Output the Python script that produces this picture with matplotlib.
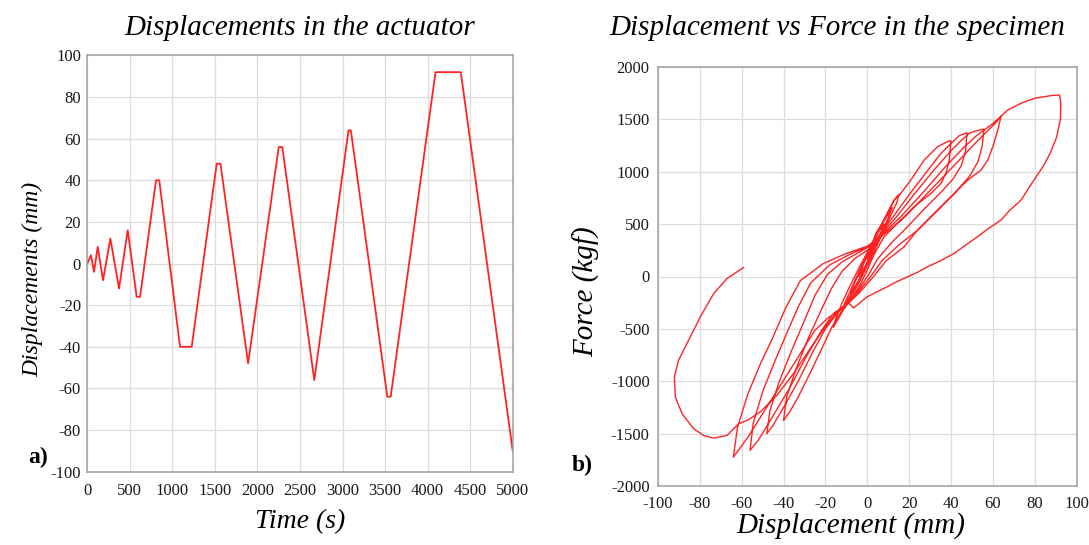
import matplotlib
matplotlib.use("Agg")
import matplotlib.pyplot as plt
import numpy as np

plt.rcParams['font.family'] = ['Liberation Serif', 'DejaVu Serif']
plt.rcParams['axes.unicode_minus'] = False

# ---------------- Panel a) : actuator displacement vs time ----------------
time_s = [0, 43, 79, 122, 185, 271, 373, 475, 580, 620, 808, 846, 1090, 1227,
          1521, 1565, 1890, 2250, 2292, 2668, 3070, 3098, 3526, 3566, 4093, 4390, 5000]
actuator_mm = [0, 4, -4, 8, -8, 12, -12, 16, -16, -16, 40, 40, -40, -40,
               48, 48, -48, 56, 56, -56, 64, 64, -64, -64, 92, 92, -90]

# ---------------- Panel b) : hysteresis (displacement, force) ----------------
small_x = [0, 4, 2, -1, -4, -2, 1, 5, 8, 6, 2, -3, -6, -8, -6, -2, 3, 8, 12, 10, 5, 0, -5, -9,
           -12, -10, -5, 0, 5, 10, 13, 15.2, 14, 10, 5, 0, -5, -10, -14, -16.2, -15, -12, -8, -4, 0, 2]
small_y = [170, 340, 230, 100, 0, 110, 240, 420, 500, 400, 200, 0, -100, -160, -60, 120, 330, 530,
           660, 560, 330, 120, -80, -210, -320, -220, 0, 220, 420, 620, 730, 785, 700, 530, 310, 100,
           -100, -270, -410, -485, -400, -250, -80, 80, 230, 300]

up40_x = [4.1, 8, 12.8, 16, 20.8, 27.2, 33.6, 38.4, 40]
up40_y = [410, 538, 729, 793, 920, 1112, 1239, 1288, 1296]
dn40_x = [39.2, 37.6, 35.2, 30.4, 22.4, 14.4, 8, 3, 0, -4, -8, -12, -17, -22, -28, -33, -37, -40]
dn40_y = [1111, 984, 888, 793, 665, 506, 379, 200, 60, -100, -230, -322, -486, -700, -950, -1150,
          -1290, -1374]

up48_x = [-38.5, -34, -28, -22, -17, -12, -6, 0, 3, 6, 12, 20, 28, 35, 40, 44, 47.7]
up48_y = [-1150, -880, -580, -320, -110, 50, 170, 250, 310, 400, 560, 780, 990, 1170, 1270, 1345, 1373]
dn48_x = [47, 45, 41, 35, 27, 19, 12, 5, 1, -4, -9, -14, -20, -26, -33, -40, -45, -48]
dn48_y = [1200, 1060, 930, 800, 640, 470, 330, 170, 30, -120, -250, -340, -500, -720, -1000, -1250,
          -1420, -1501]

up56_x = [-46.5, -42, -36, -30, -25, -19, -12, -4, 2, 6, 14, 23, 32, 40, 45, 49, 52, 55.7]
up56_y = [-1280, -1000, -700, -420, -180, 20, 140, 230, 300, 390, 570, 800, 1020, 1200, 1300, 1370,
          1390, 1408]
dn56_x = [55, 53, 49, 42, 33, 24, 15, 7, 2, -4, -10, -16, -22, -29, -37, -45, -52, -56]
dn56_y = [1250, 1100, 960, 800, 620, 440, 300, 150, 10, -140, -270, -350, -520, -760, -1060, -1330,
          -1560, -1660]

up64_x = [-54.5, -50, -44, -38, -33, -27, -18, -8, 1, 6, 16, 27, 37, 46, 52, 56, 60, 64]
up64_y = [-1400, -1100, -800, -520, -290, -60, 110, 215, 290, 380, 570, 810, 1040, 1230, 1340, 1400,
          1460, 1532]
dn64_x = [62.4, 60, 57.6, 54.4, 48, 40, 32, 24, 17.6, 9, 3, -4, -11, -19, -25, -33, -41, -49, -57, -64]
dn64_y = [1399, 1239, 1112, 1016, 920, 761, 602, 443, 283, 150, 0, -160, -290, -400, -513, -768,
          -1023, -1278, -1533, -1725]

up92_x = [-62, -57, -51, -45, -39, -32, -21, -10, 0, 6, 18, 30, 42, 52, 58, 62, 64, 67.2, 73.5, 79.9,
          87.9, 91.9]
up92_y = [-1438, -1119, -832, -577, -300, -40, 124, 220, 290, 370, 570, 820, 1070, 1280, 1400, 1480,
          1532, 1590, 1654, 1701, 1727, 1733]
final_x = [92.5, 92.3, 90.5, 87.5, 84, 80.7, 77, 73.5, 68, 63.9, 58, 52.7, 47, 41.5, 35, 28.7, 24,
           19.1, 14, 9.5, 4.7, -0.1, -6.5, -9, -14, -20, -27, -35, -43, -51, -57, -61.4, -67, -73.4,
           -78, -83, -88.5, -91.7, -92.2, -90.2, -85.4, -79.8, -73.4, -67, -59.1]
final_y = [1650, 1500, 1330, 1180, 1050, 952, 840, 729, 630, 538, 460, 379, 300, 220, 150, 92, 40,
           -4, -50, -99, -145, -195, -300, -250, -330, -480, -680, -920, -1130, -1290, -1370, -1405,
           -1517, -1543, -1520, -1453, -1310, -1151, -960, -800, -609, -386, -163, -19, 86]

segments_x = [small_x, up40_x, dn40_x, up48_x, dn48_x, up56_x, dn56_x, up64_x, dn64_x, up92_x, final_x]
segments_y = [small_y, up40_y, dn40_y, up48_y, dn48_y, up56_y, dn56_y, up64_y, dn64_y, up92_y, final_y]
disp_path = np.concatenate(segments_x)
force_path = np.concatenate(segments_y)

# ---------------- Figure ----------------
W, H = 1089, 545
fig = plt.figure(figsize=(W / 100, H / 100), dpi=100)

def px_axes(l, t, r, b):
    return fig.add_axes([l / W, 1 - b / H, (r - l) / W, (b - t) / H])

RED = '#ff2424'
GRID = '#dcdcdc'
SPINE = '#a0a0a0'
TICK = '#1a1a1a'

def style(ax):
    ax.grid(True, color=GRID, lw=0.9)
    ax.set_axisbelow(True)
    for s in ax.spines.values():
        s.set_color(SPINE)
        s.set_linewidth(1.1)

axA = px_axes(87.3, 55.5, 512.7, 471.6)
style(axA)
axA.plot(time_s, actuator_mm, color=RED, lw=1.3)
axA.set_xlim(0, 5000)
axA.set_ylim(-100, 100)
axA.set_xticks(np.arange(0, 5001, 500))
axA.set_yticks(np.arange(-100, 101, 20))
axA.tick_params(axis='x', length=0, pad=8, labelsize=12, labelcolor=TICK)
axA.tick_params(axis='y', length=0, pad=4.5, labelsize=12, labelcolor=TICK)
axA.set_title('Displacements in the actuator', fontsize=21, style='italic', pad=15)
axA.set_xlabel('Time (s)', fontsize=20, style='italic')
axA.set_ylabel('Displacements (mm)', fontsize=17, style='italic', va='center')
axA.yaxis.set_label_coords((33 - 87.3) / 425.4, (471.6 - 279) / 416.1)
axA.xaxis.set_label_coords(0.5, -(509 - 471.6) / 416.1)

axB = px_axes(658, 67, 1076.5, 486)
style(axB)
axB.plot(disp_path, force_path, color=RED, lw=1.0)
axB.set_xlim(-100, 100)
axB.set_ylim(-2000, 2000)
axB.set_xticks(np.arange(-100, 101, 20))
axB.set_yticks(np.arange(-2000, 2001, 500))
axB.tick_params(axis='x', length=0, pad=7, labelsize=12, labelcolor=TICK)
axB.tick_params(axis='y', length=0, pad=6, labelsize=12, labelcolor=TICK)
axB.set_title('Displacement vs Force in the specimen', fontsize=21, style='italic', pad=23,
              x=(837.5 - 658) / 418.5)
axB.set_xlabel('Displacement (mm)', fontsize=21, style='italic')
axB.xaxis.set_label_coords((851 - 658) / 418.5, -(512 - 486) / 419)
axB.set_ylabel('Force (kgf)', fontsize=21, style='italic', va='center')
axB.yaxis.set_label_coords((586 - 658) / 418.5, (486 - 292) / 419)

fig.text(28 / W, 1 - 463 / H, 'a)', fontsize=17, fontweight='bold', ha='left', va='baseline')
fig.text(572 / W, 1 - 471 / H, 'b)', fontsize=17, fontweight='bold', ha='left', va='baseline')

fig.savefig('out.png', dpi=100)
